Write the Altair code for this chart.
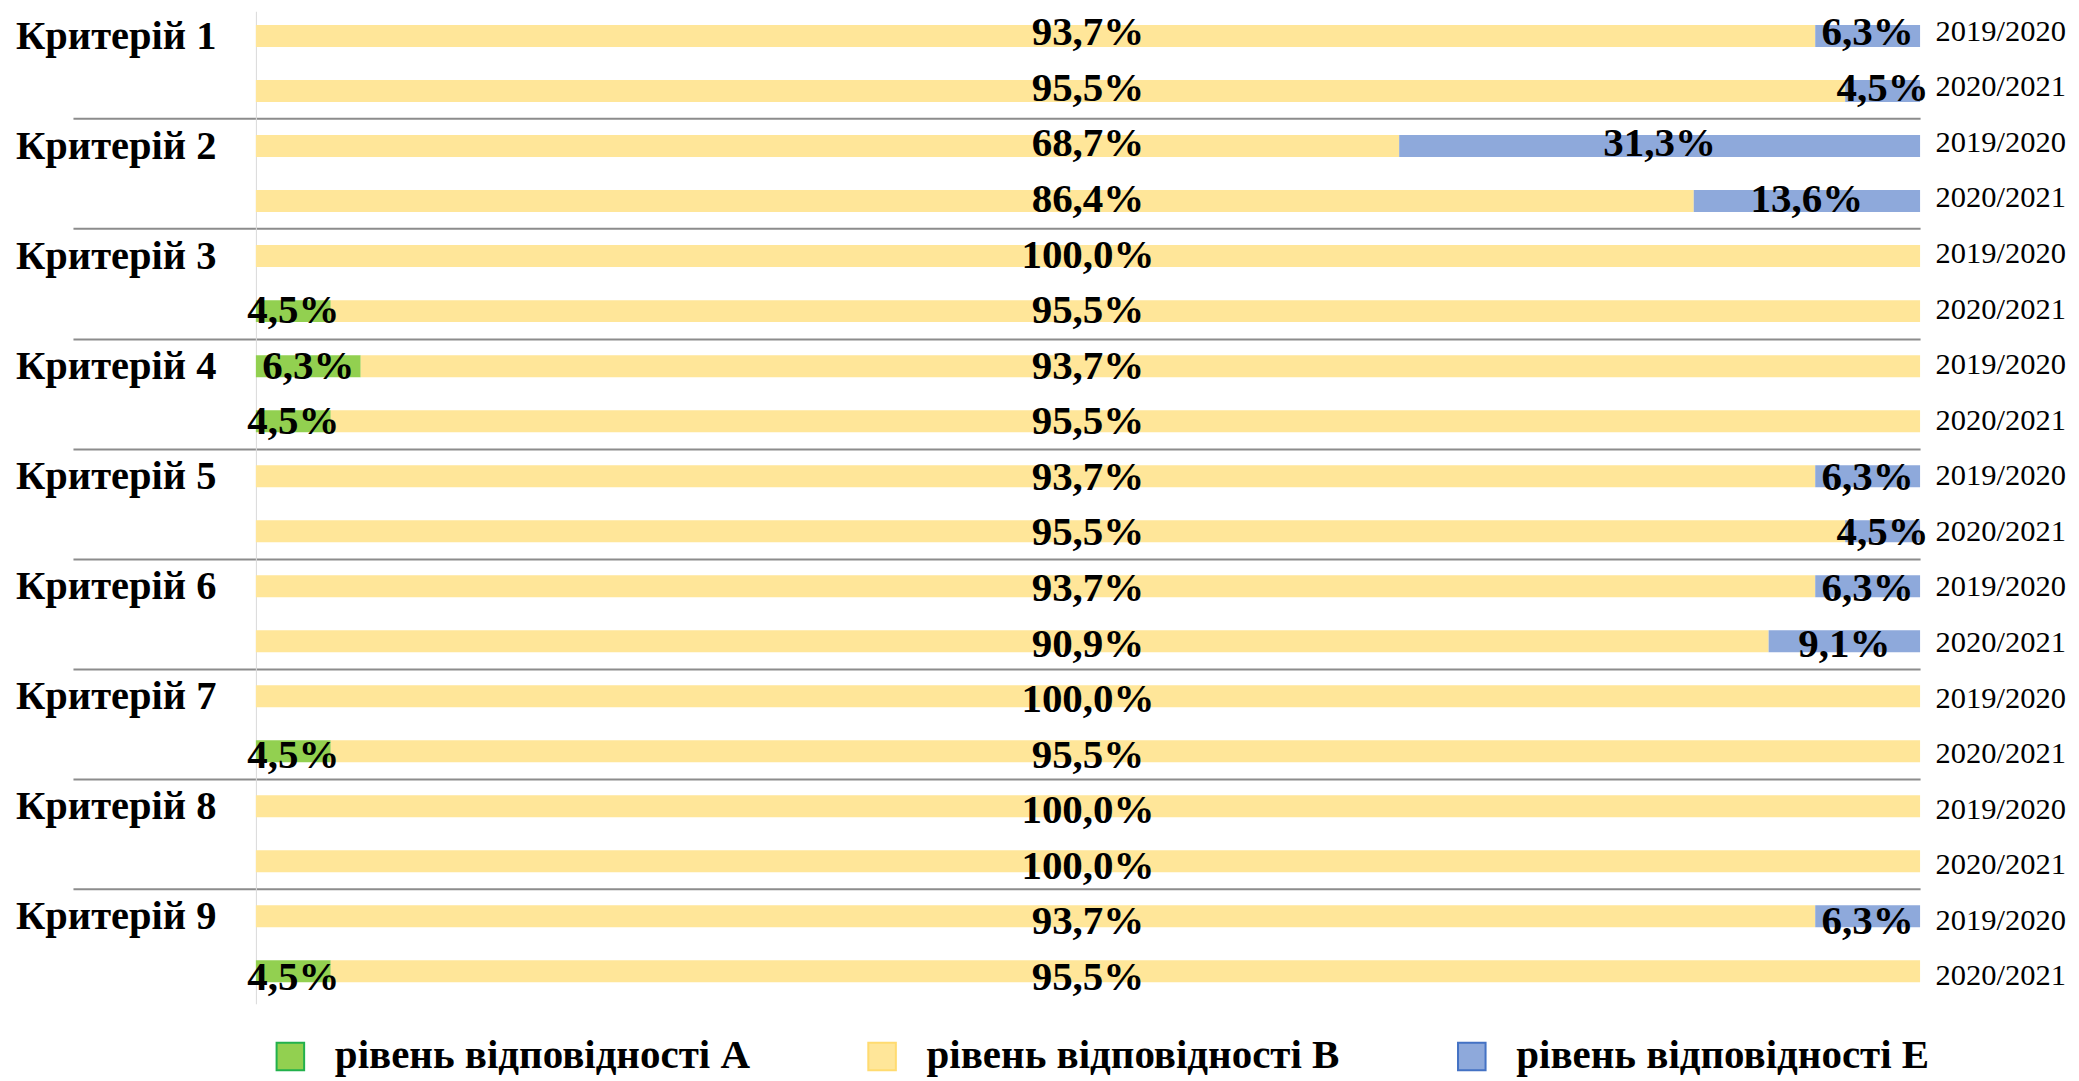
import json
import altair as alt
import pandas as pd

criteria = ["Критерій 1", "Критерій 2", "Критерій 3", "Критерій 4", "Критерій 5",
            "Критерій 6", "Критерій 7", "Критерій 8", "Критерій 9"]
years = ["2019/2020", "2020/2021"]
levels = ["рівень відповідності А", "рівень відповідності В", "рівень відповідності Е"]

# values per row: criterion 1 (2019/2020, 2020/2021), criterion 2 (...), ...
level_a = [0, 0,   0, 0,     0, 4.5,  6.3, 4.5,  0, 0,    0, 0,    0, 4.5,  0, 0,    0, 4.5]
level_b = [93.7, 95.5, 68.7, 86.4, 100, 95.5, 93.7, 95.5, 93.7, 95.5,
           93.7, 90.9, 100, 95.5, 100, 100, 93.7, 95.5]
level_e = [6.3, 4.5, 31.3, 13.6, 0, 0, 0, 0, 6.3, 4.5, 6.3, 9.1, 0, 0, 0, 0, 6.3, 0]

fills = ["#92D050", "#FFE699", "#8EA9DB"]
strokes = ["#22B14C", "#FFDB70", "#4472C4"]

rows = []
for ci, crit in enumerate(criteria):
    for yi, yr in enumerate(years):
        r = 2 * ci + yi
        vals = [level_a[r], level_b[r], level_e[r]]
        total = sum(vals)
        start = 0.0
        for li, lev in enumerate(levels):
            v = vals[li]
            end = start + v
            mid = (start + end) / 2 if li != 1 else total / 2
            rows.append(dict(row=r, criterion=crit, year=yr, level=lev, value=v,
                             start=start, end=end, label_x=mid))
            start = end
df = pd.DataFrame(rows)

n_rows = len(criteria) * len(years)
label_vals = [2 * g for g in range(len(criteria))]
sep_vals = [2 * g + 1.5 for g in range(len(criteria) - 1)]

yscale = alt.Scale(domain=[-0.36, n_rows - 0.5], reverse=True, nice=False, zero=False)
xscale = alt.Scale(domain=[0, 100], nice=False, zero=True)

crit_js = json.dumps(criteria, ensure_ascii=False)
years_js = json.dumps(years, ensure_ascii=False)

sep_test = "datum.value % 2 != 0"

left_axis = alt.Axis(
    orient="left", title=None, values=label_vals + sep_vals,
    labelExpr=f"datum.value % 2 == 0 ? {crit_js}[datum.value / 2] : ''",
    labelFont="Liberation Serif", labelFontWeight="bold", labelFontSize=40.5,
    labelColor="black", labelLimit=500, labelPadding=-143,
    ticks=True, tickSize=183, tickColor="#8C8C8C", tickWidth=2,
    tickOpacity={"condition": {"test": sep_test, "value": 1}, "value": 0},
    grid=True, gridColor="#8C8C8C", gridWidth=2,
    gridOpacity={"condition": {"test": sep_test, "value": 1}, "value": 0},
    domain=True, domainColor="#D9D9D9", domainWidth=1,
)

legend = alt.Legend(
    title=None, orient="none", direction="horizontal", legendX=14, legendY=1025,
    symbolType="square", symbolSize=760, symbolStrokeWidth=2, symbolOpacity=1,
    labelFont="Liberation Serif", labelFontWeight="bold", labelFontSize=41,
    labelColor="black", labelLimit=1000, labelOffset=24, columnPadding=111, padding=0,
)

base = alt.Chart(df)

bars = base.mark_bar(size=22, strokeWidth=0).encode(
    x=alt.X("start:Q", scale=xscale, axis=None),
    x2="end:Q",
    y=alt.Y("row:Q", scale=yscale, axis=left_axis),
    fill=alt.Fill("level:N", scale=alt.Scale(domain=levels, range=fills), legend=legend),
    stroke=alt.Stroke("level:N", scale=alt.Scale(domain=levels, range=strokes), legend=legend),
)

right_axis = alt.Axis(
    orient="right", title=None, values=list(range(n_rows)),
    labelExpr=f"{years_js}[datum.value % 2]",
    labelFont="Liberation Serif", labelFontWeight="normal", labelFontSize=30.5,
    labelColor="black", labelLimit=500, labelPadding=15,
    ticks=False, tickSize=0, grid=False, domain=False,
)

texts = base.transform_filter("datum.value > 0").transform_calculate(
    label="replace(format(datum.value, '.1f'), '.', ',') + '%'"
).mark_text(
    font="Liberation Serif", fontWeight="bold", fontSize=41, color="black",
    baseline="middle", align="center", dy=2,
).encode(
    x=alt.X("label_x:Q", scale=xscale, axis=None),
    y=alt.Y("row:Q", scale=yscale, axis=right_axis),
    text="label:N",
)

chart = alt.layer(bars, texts).resolve_scale(y="independent").properties(
    width=1665, height=993,
    padding={"left": 7, "top": 3, "right": 5, "bottom": 0},
).configure_view(stroke=None)

chart.save("out.html", embed_options={"renderer": "svg", "actions": False})
